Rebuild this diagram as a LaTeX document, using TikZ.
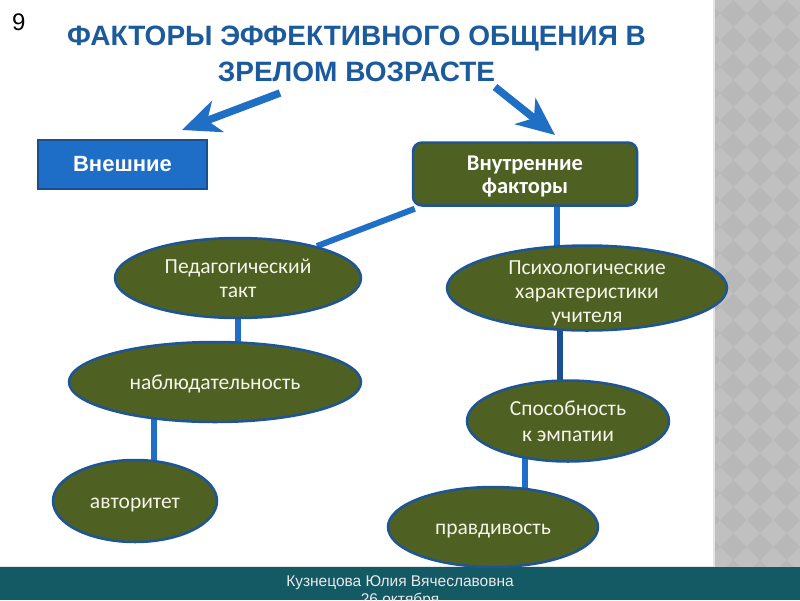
\documentclass[tikz,border=0pt]{standalone}
\usepackage{fontspec}
\setmainfont{Carlito}
\newfontfamily\arialf{Liberation Sans}
\usetikzlibrary{shapes.geometric,arrows.meta,calc,backgrounds}
\definecolor{titleblue}{RGB}{28,90,158}
\definecolor{arrowblue}{RGB}{31,111,197}
\definecolor{connblue}{RGB}{31,111,200}
\definecolor{darkconn}{RGB}{26,80,145}
\definecolor{olive}{RGB}{79,96,35}
\definecolor{edgeblue}{RGB}{30,85,150}
\definecolor{boxblue}{RGB}{30,110,200}
\definecolor{boxedge}{RGB}{25,80,140}
\definecolor{barteal}{RGB}{20,90,100}
\definecolor{striplight}{RGB}{192,192,192}
\definecolor{stripdark}{RGB}{184,184,184}
\definecolor{cream}{RGB}{244,244,232}
\definecolor{foottext}{RGB}{232,232,232}
\begin{document}
\begin{tikzpicture}[x=1pt,y=-1pt,
  oval/.style={ellipse, draw=edgeblue, line width=2.5pt, fill=olive, inner sep=0pt,
    text=cream, align=center, font=\fontsize{21.5}{24}\selectfont},
  oneline/.style={text height=15pt, text depth=0pt},
  conn/.style={draw=connblue, line width=6pt},
  bigarrow/.style={draw=arrowblue, fill=arrowblue, line width=7.5pt,
    -{Stealth[length=38pt,width=33pt,inset=11pt]}},
  titletext/.style={text=titleblue, inner sep=0pt, anchor=base,
    font=\arialf\bfseries\fontsize{28}{28}\selectfont}
]
\useasboundingbox (0,0) rectangle (800,600);
\begin{pgfonlayer}{background}
\fill[white] (0,0) rectangle (800,600);
\fill[striplight] (713,0) rectangle (800,567);
\begin{scope}
\clip (713,0) rectangle (800,567);
\foreach \i in {-1,...,3}{
  \foreach \j in {0,...,21}{
    \pgfmathsetmacro\cx{720+26.67*\i}
    \pgfmathsetmacro\cy{13.33+26.67*\j}
    \fill[stripdark] (\cx,\cy) -- ++(13.33,-13.33) -- ++(13.33,13.33) -- ++(-13.33,13.33) -- cycle;
  }
}
\end{scope}
\draw[white!80!gray, line width=1.5pt] (713.75,0) -- (713.75,567);
\fill[barteal] (0,567) rectangle (800,600);
\draw[white!80!gray, line width=1pt] (0,566.5) -- (713,566.5);
\end{pgfonlayer}

% number and title
\node[font=\arialf\fontsize{24}{24}\selectfont, anchor=base west, inner sep=0pt] (num) at (12,30) {9};
\node[titletext] (title1) at (356.5,45) {ФАКТОРЫ ЭФФЕКТИВНОГО ОБЩЕНИЯ В};
\node[titletext] (title2) at (356.5,81) {ЗРЕЛОМ ВОЗРАСТЕ};

% boxes
\node[draw=boxedge, fill=boxblue, line width=2pt, minimum width=169pt, minimum height=49pt,
  inner sep=0pt, text=white, font=\arialf\bfseries\fontsize{22}{24}\selectfont] (ext) at (122.5,164.5) {Внешние};
\node[draw=edgeblue, fill=olive, line width=2.5pt, rounded corners=9pt, minimum width=224pt,
  minimum height=63pt, inner sep=0pt, text=white, align=center,
  font=\bfseries\fontsize{22.5}{23}\selectfont] (int) at (525,174) {\rule{0pt}{20pt}Внутренние\\факторы};

% ellipses
\node[oval, minimum width=246pt, minimum height=80pt] (ped) at (238,278) {Педагогический\\такт};
\node[oval, oneline, minimum width=292pt, minimum height=80pt] (nab) at (215,382) {наблюдательность};
\node[oval, oneline, minimum width=164pt, minimum height=82pt] (avt) at (135,501) {авторитет};
\node[oval, inner ysep=-16pt, minimum width=280pt, minimum height=85pt] (psy) at (587,288) {\rule{0pt}{24pt}Психологические\\характеристики\\учителя};
\node[oval, minimum width=202pt, minimum height=81pt, font=\fontsize{21.5}{26}\selectfont] (sp) at (568,421) {Способность\\к эмпатии};
\node[oval, oneline, minimum width=210pt, minimum height=80pt] (pr) at (493,527) {правдивость};

% footer
\node[font=\arialf\fontsize{15.5}{16}\selectfont, text=foottext, anchor=base, inner sep=0pt] (foot1) at (400,586) {Кузнецова Юлия Вячеславовна};
\node[font=\arialf\fontsize{15.5}{16}\selectfont, text=foottext, anchor=base, inner sep=0pt] (foot2) at (400,604) {26 октября};

% arrows
\coordinate (a1s) at (280,93);
\coordinate (a1e) at (182,130);
\coordinate (a2s) at (495,87);
\coordinate (a2e) at (555,135);
\draw[bigarrow] (a1s) -- (a1e);
\draw[bigarrow] (a2s) -- (a2e);

% connectors
\begin{pgfonlayer}{background}
\draw[conn] ([xshift=3pt,yshift=-2pt]int.south west) -- (ped.22);
\draw[conn] ([xshift=32pt]int.south) -- ([xshift=32pt]int.south |- psy.center);
\draw[conn] (ped.center) -- (ped.center |- nab.center);
\draw[conn] ([xshift=19pt]avt.center) -- ([xshift=19pt]avt.center |- nab.center);
\draw[draw=darkconn, line width=5.5pt] ([xshift=-8pt]sp.center) -- ([xshift=-8pt]sp.center |- psy.center);
\draw[conn] ([xshift=32pt]pr.center) -- ([xshift=32pt]pr.center |- sp.center);
\end{pgfonlayer}
\end{tikzpicture}
\end{document}
